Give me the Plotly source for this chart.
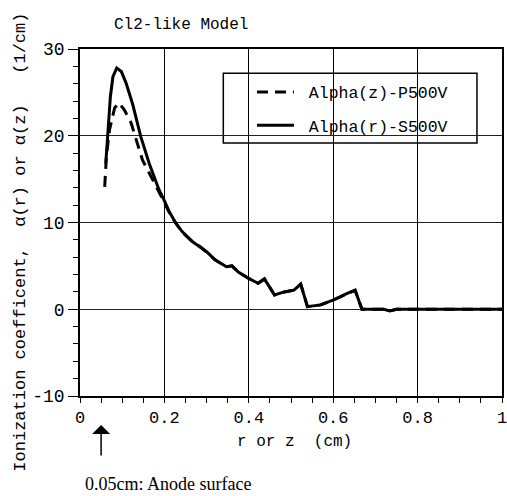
import plotly.graph_objects as go

# Alpha(r)-S500V (solid)
r_x = [0.061, 0.066, 0.072, 0.078, 0.087, 0.098, 0.109, 0.125, 0.144, 0.164, 0.187, 0.199,
       0.211, 0.226, 0.242, 0.266, 0.285, 0.300, 0.320, 0.347, 0.360, 0.375, 0.398, 0.422,
       0.437, 0.461, 0.484, 0.507, 0.523, 0.539, 0.570, 0.601, 0.632, 0.652, 0.668, 0.720,
       0.734, 0.750, 1.000]
r_y = [16.8, 20.7, 24.5, 26.8, 27.8, 27.4, 26.1, 23.6, 19.9, 16.8, 13.8, 12.6,
       11.3, 10.0, 8.95, 7.8, 7.2, 6.65, 5.7, 4.9, 5.0, 4.3, 3.6, 3.0,
       3.5, 1.65, 2.0, 2.2, 2.9, 0.3, 0.5, 1.07, 1.8, 2.2, 0.0, 0.0,
       -0.2, 0.0, 0.0]

# Alpha(z)-P500V (dashed)
z_x = [0.0585, 0.0625, 0.070, 0.082, 0.092, 0.105, 0.121, 0.133, 0.148, 0.164, 0.187, 0.199,
       0.211, 0.226, 0.242, 0.266, 0.285, 0.300, 0.320, 0.347, 0.360, 0.375, 0.398, 0.422,
       0.437, 0.461, 0.484, 0.507, 0.523, 0.539, 0.570, 0.601, 0.632, 0.652, 0.668, 0.720,
       0.734, 0.750, 1.000]
z_y = [14.1, 17.6, 20.7, 23.2, 23.8, 23.0, 21.5, 19.5, 17.2, 15.7, 13.6, 12.4,
       11.2, 10.0, 8.9, 7.8, 7.2, 6.6, 5.7, 4.9, 5.0, 4.3, 3.6, 3.0,
       3.5, 1.65, 2.0, 2.2, 2.9, 0.3, 0.5, 1.07, 1.8, 2.2, 0.0, 0.0,
       -0.2, 0.0, 0.0]

x_ticks = [0, 0.2, 0.4, 0.6, 0.8, 1]
x_ticktext = ["0", "0.2", "0.4", "0.6", "0.8", "1"]
y_ticks = [-10, 0, 10, 20, 30]
y_ticktext = ["-10", "0", "10", "20", "30"]

MONO = "Liberation Mono"

fig = go.Figure()
fig.add_trace(go.Scatter(x=z_x, y=z_y, mode="lines", name=" Alpha(z)-P500V",
                         legendgroup="z",
                         line=dict(color="black", width=3, dash="11px,7px")))
fig.add_trace(go.Scatter(x=r_x, y=r_y, mode="lines", name=" Alpha(r)-S500V",
                         legendgroup="r",
                         line=dict(color="black", width=3)))

fig.update_layout(
    width=507, height=496,
    margin=dict(l=80, r=0, t=49, b=100),
    paper_bgcolor="white", plot_bgcolor="white",
    font=dict(family=MONO, color="black", size=17),
    showlegend=True,
    legend=dict(x=0.4075, y=0.926, xanchor="left", yanchor="top",
                bgcolor="rgba(0,0,0,0)", borderwidth=0,
                font=dict(family=MONO, size=16.5, color="black"),
                itemwidth=37, tracegroupgap=9),
    xaxis=dict(range=[0, 1], tickvals=x_ticks, ticktext=x_ticktext,
               showgrid=True, gridcolor="black", gridwidth=1,
               showline=True, linecolor="black", linewidth=1.5, mirror=True,
               ticks="outside", ticklen=5, tickcolor="black",
               minor=dict(dtick=0.05, ticks="outside", ticklen=5, tickcolor="black", showgrid=False),
               zeroline=False, ticklabeloverflow="allow",
               tickfont=dict(family=MONO, size=17)),
    yaxis=dict(range=[-10, 30], tickvals=y_ticks, ticktext=y_ticktext,
               showgrid=True, gridcolor="#222", gridwidth=1,
               showline=True, linecolor="black", linewidth=1.5, mirror=True,
               ticks="outside", ticklen=10, tickcolor="black",
               minor=dict(dtick=2, ticks="outside", ticklen=5, tickcolor="black", showgrid=False),
               zeroline=False, tickfont=dict(family=MONO, size=18)),
)

# legend frame
fig.add_shape(type="rect", xref="paper", yref="paper",
              x0=0.3396, x1=0.9407, y0=0.729, y1=0.930,
              line=dict(color="black", width=1.5), fillcolor="white", layer="below")

# titles and notes
fig.add_annotation(text="Cl2-like Model", xref="paper", yref="paper",
                   x=0.075, y=1.069, xanchor="left", yanchor="middle", showarrow=False,
                   font=dict(family=MONO, size=16))
fig.add_annotation(text="r or z  (cm)", xref="paper", yref="paper",
                   x=0.508, y=-0.1326, xanchor="center", yanchor="middle", showarrow=False,
                   font=dict(family=MONO, size=16))
fig.add_annotation(text="Ionization coefficent,  α(r) or α(z)   (1/cm)", xref="paper", yref="paper",
                   x=-0.1405, y=0.444, xanchor="center", yanchor="middle", showarrow=False,
                   textangle=-90, font=dict(family=MONO, size=17))
fig.add_annotation(text="", xref="x", yref="paper", x=0.05, y=-0.0836,
                   ax=0, ay=32, showarrow=True, arrowhead=1, arrowsize=2,
                   arrowwidth=1.5, arrowcolor="black")
fig.add_annotation(text="0.05cm: Anode surface", xref="paper", yref="paper",
                   x=0.007, y=-0.2536, xanchor="left", yanchor="middle", showarrow=False,
                   font=dict(family="Liberation Serif", size=18))

fig.write_html("out.html", config={"displayModeBar": False},
               post_script="document.body.style.margin='0';document.body.style.overflow='hidden';")
